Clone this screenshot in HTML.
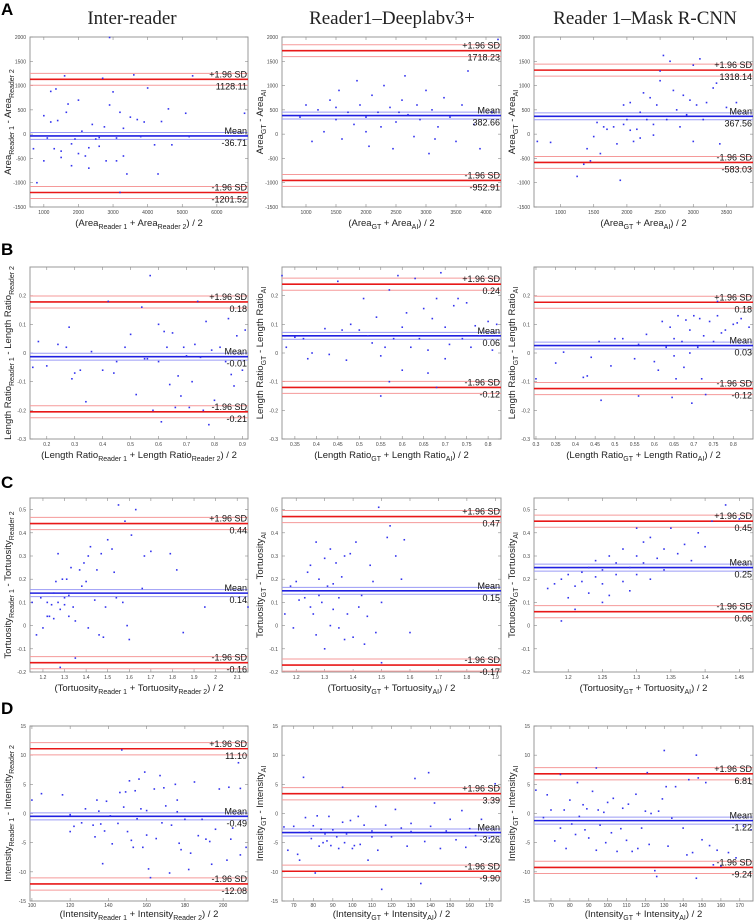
<!DOCTYPE html>
<html><head><meta charset="utf-8"><style>
html,body{margin:0;padding:0;background:#fff;}
svg{display:block;font-family:"Liberation Sans",sans-serif;}
.t{font-family:"Liberation Serif",serif;font-size:19px;fill:#222}
.L{font-family:"Liberation Sans",sans-serif;font-weight:bold;font-size:17px}
</style></head><body>
<svg id="fig" width="755" height="922" viewBox="0 0 755 922" xmlns="http://www.w3.org/2000/svg">
<text class="t" x="132" y="24" text-anchor="middle">Inter-reader</text>
<text class="t" x="392" y="24" text-anchor="middle">Reader1–Deeplabv3+</text>
<text class="t" x="645" y="24" text-anchor="middle">Reader 1–Mask R-CNN</text>
<text class="L" x="1" y="15">A</text>
<text class="L" x="1" y="255">B</text>
<text class="L" x="1" y="488">C</text>
<text class="L" x="1" y="714">D</text>
</svg>
<script>
const ptsA1=[[700,-300],[800,-1000],[1000,-550],[1000,380],[1200,880],[1200,250],[1300,-300],[1350,930],[1400,280],[1500,-480],[1600,1200],[1650,450],[1700,620],[1800,-650],[1900,-100],[2000,700],[2000,-400],[2100,60],[2200,-450],[2300,-700],[2400,200],[2500,-100],[2600,-250],[2700,1150],[2750,150],[2800,-550],[2900,600],[2900,1990],[3000,870],[3100,-550],[3200,-1200],[3200,450],[3300,-450],[3400,-820],[3500,350],[3600,1220],[3700,300],[3800,-50],[3900,250],[4000,950],[4200,-220],[4300,-820],[4400,260],[4600,520],[4700,-220],[5100,430],[5300,1200],[5200,-50],[6800,430],[1100,-80],[1500,-350],[2300,-280],[2600,-70],[3100,-80],[3300,120],[1800,-200]];
const ptsA2=[[900,350],[1000,600],[1100,-150],[1200,500],[1300,50],[1400,700],[1500,300],[1550,900],[1600,-100],[1700,450],[1800,200],[1850,1100],[1900,600],[2000,350],[2050,-250],[2100,800],[2200,450],[2250,150],[2300,1000],[2400,550],[2450,-300],[2500,250],[2600,700],[2650,1200],[2700,400],[2800,-50],[2850,600],[2900,300],[3000,900],[3050,-400],[3100,500],[3200,150],[3300,750],[3400,350],[3500,-150],[3600,600],[3700,1300],[3800,200],[3900,-300],[4100,450],[4200,1950],[1500,550],[2000,50],[2550,450],[3150,-100]];
const ptsA3=[[650,-150],[850,-170],[1250,-870],[1350,-620],[1400,-300],[1450,-550],[1500,-50],[1550,240],[1600,-400],[1650,150],[1700,100],[1800,150],[1850,-200],[1900,-950],[1950,200],[1950,600],[2000,300],[2050,650],[2100,-150],[2150,100],[2200,450],[2250,850],[2300,300],[2350,750],[2400,200],[2450,600],[2500,1100],[2500,1300],[2550,1620],[2600,300],[2650,1500],[2700,900],[2750,500],[2800,150],[2850,800],[2900,400],[2950,700],[3000,-150],[3000,1420],[3050,600],[3100,1550],[3150,300],[3200,650],[3300,950],[3350,1050],[3400,-200],[3500,550],[3650,650],[2200,-80],[2400,-20],[2050,80]];
const ptsB1=[[0.15,-0.05],[0.17,0.04],[0.2,-0.045],[0.24,0.03],[0.27,0.02],[0.28,0.09],[0.29,-0.09],[0.3,-0.07],[0.32,-0.06],[0.34,-0.17],[0.36,0.005],[0.4,-0.06],[0.42,0.18],[0.44,-0.07],[0.48,0.02],[0.5,0.065],[0.52,-0.145],[0.54,0.16],[0.56,-0.02],[0.57,0.27],[0.58,-0.2],[0.6,0.1],[0.61,-0.24],[0.62,0.075],[0.63,0.02],[0.64,-0.11],[0.65,0.07],[0.66,-0.19],[0.67,-0.08],[0.68,-0.15],[0.69,0.02],[0.71,-0.19],[0.72,-0.1],[0.73,0.03],[0.74,0.18],[0.75,-0.015],[0.76,-0.2],[0.77,0.11],[0.78,-0.25],[0.79,0.01],[0.8,-0.165],[0.82,0.02],[0.84,-0.03],[0.85,0.12],[0.86,-0.075],[0.87,-0.115],[0.88,0.06],[0.9,-0.06],[0.91,0.08],[0.6,-0.03],[0.7,-0.01],[0.55,-0.02],[0.45,-0.03]];
const ptsB2=[[0.32,0.27],[0.33,0.02],[0.35,0.055],[0.37,0.05],[0.38,-0.02],[0.39,0],[0.42,0.085],[0.43,-0.005],[0.45,0.25],[0.46,0.08],[0.47,-0.025],[0.48,0.1],[0.5,0.08],[0.51,0.19],[0.52,0.06],[0.53,0.035],[0.54,0.125],[0.55,-0.01],[0.56,0.02],[0.57,0.22],[0.57,-0.1],[0.58,0.05],[0.59,0.27],[0.6,-0.06],[0.61,0.14],[0.62,0.02],[0.63,0.26],[0.64,0.05],[0.65,0.155],[0.66,-0.07],[0.67,0.12],[0.68,-0.12],[0.69,0.28],[0.68,0.19],[0.7,0.09],[0.71,0.03],[0.72,0.165],[0.73,0.19],[0.74,0.05],[0.75,0.175],[0.76,0.02],[0.77,0.095],[0.78,0.06],[0.8,0.11],[0.81,0.01],[0.82,0.1],[0.66,0.01],[0.7,-0.02],[0.6,0.09],[0.55,-0.15]];
const ptsB3=[[0.3,-0.09],[0.35,-0.035],[0.37,0.003],[0.42,-0.085],[0.43,-0.08],[0.44,-0.015],[0.46,0.04],[0.465,-0.165],[0.49,-0.045],[0.5,0.05],[0.52,0.05],[0.55,-0.02],[0.56,0.03],[0.56,-0.15],[0.58,0.065],[0.6,-0.03],[0.61,-0.06],[0.62,0.11],[0.63,0.02],[0.64,0.09],[0.645,-0.155],[0.65,0.05],[0.655,-0.09],[0.66,0.13],[0.67,0.04],[0.675,-0.05],[0.68,0.115],[0.69,0.08],[0.695,-0.175],[0.7,0.13],[0.71,0.02],[0.715,0.12],[0.72,-0.09],[0.725,0.06],[0.73,-0.145],[0.74,0.11],[0.75,0.04],[0.76,0.13],[0.77,0.07],[0.78,0.08],[0.8,0.1],[0.81,0.105],[0.82,0.12],[0.84,0.09],[0.76,0.18],[0.69,0.0],[0.65,-0.01]];
const ptsC1=[[1.15,0.1],[1.17,-0.04],[1.19,0.12],[1.2,-0.01],[1.22,0.04],[1.23,0.04],[1.24,0.09],[1.25,0.03],[1.25,0.14],[1.26,0.19],[1.27,0.1],[1.27,0.31],[1.28,0.07],[1.28,-0.18],[1.29,0.2],[1.3,0.09],[1.31,0.2],[1.32,0.13],[1.32,0.04],[1.33,0.25],[1.34,0.08],[1.35,0.02],[1.35,-0.14],[1.37,0.24],[1.38,0.17],[1.39,0.27],[1.4,0.19],[1.41,0.3],[1.41,-0.01],[1.42,0.34],[1.44,0.11],[1.45,0.24],[1.46,-0.04],[1.47,0.31],[1.48,-0.05],[1.49,0.08],[1.5,0.37],[1.52,0.33],[1.53,0.23],[1.54,0.12],[1.55,0.52],[1.57,0.1],[1.58,0.45],[1.59,0],[1.6,-0.06],[1.61,0.39],[1.63,0.5],[1.66,0.16],[1.67,0.3],[1.7,0.32],[1.79,0.31],[1.82,0.24],[1.85,-0.03],[1.95,0.08],[2.15,0.08],[1.22,0.1],[1.3,0.12]];
const ptsC2=[[1.16,0.05],[1.18,0.17],[1.19,-0.01],[1.2,0.19],[1.21,0.11],[1.22,0.15],[1.23,0.12],[1.24,0.23],[1.25,0.08],[1.25,0.26],[1.26,0.05],[1.27,0.36],[1.27,-0.04],[1.28,0.2],[1.29,0.1],[1.3,0.29],[1.3,-0.1],[1.31,0.17],[1.32,0.33],[1.32,0.0],[1.33,0.07],[1.34,0.27],[1.35,-0.01],[1.35,0.12],[1.36,0.21],[1.37,0.3],[1.37,-0.06],[1.38,0.05],[1.39,0.31],[1.4,-0.05],[1.41,0.36],[1.42,0.08],[1.43,0.13],[1.44,-0.08],[1.45,0.04],[1.46,0.26],[1.47,0.19],[1.48,-0.03],[1.49,0.51],[1.5,0.1],[1.52,0.38],[1.53,0.43],[1.55,0.3],[1.57,0.2],[1.58,0.37],[1.6,-0.03],[1.5,-0.16],[1.28,0.13],[1.33,0.18]];
const ptsC3=[[1.17,0.16],[1.18,0.18],[1.19,0.2],[1.2,0.12],[1.2,0.22],[1.21,0.17],[1.21,0.07],[1.22,0.23],[1.22,0.19],[1.23,0.25],[1.23,0.14],[1.24,0.21],[1.24,0.28],[1.25,0.18],[1.25,0.24],[1.26,0.13],[1.26,0.3],[1.27,0.22],[1.27,0.27],[1.28,0.19],[1.28,0.33],[1.29,0.25],[1.29,0.15],[1.3,0.3],[1.3,0.22],[1.31,0.36],[1.31,0.27],[1.32,0.2],[1.32,0.38],[1.33,0.29],[1.34,0.33],[1.34,0.24],[1.35,0.42],[1.36,0.31],[1.37,0.35],[1.38,0.28],[1.39,0.4],[1.4,0.34],[1.41,0.45],[1.43,0.52],[1.45,0.46],[1.19,0.02],[1.25,0.1],[1.3,0.42]];
const ptsD1=[[100,2.3],[105,3.4],[116,3.2],[120,-0.2],[120,-3.1],[122,-2.2],[126,-1.6],[128,0.8],[132,-2],[133,-4],[134,2.3],[135,0.4],[136,-1.8],[137,-8.6],[138,-3],[139,2.1],[141,-0.4],[142,-5.2],[145,-1.7],[146,3.6],[147,10.9],[148,1.1],[149,3.7],[150,-3.1],[151,5.6],[152,-4.6],[153,-5.8],[154,3.9],[155,-0.9],[156,5.9],[157,0.8],[158,-5.8],[159,7.1],[160,-3.7],[161,-9.5],[162,-11],[164,4.2],[165,-4.3],[167,6.5],[168,-1.6],[169,4.4],[170,1.3],[172,-10.2],[173,-2],[175,5],[176,2.3],[177,-5.1],[178,-6.2],[180,-1],[182,-9.6],[183,-6.8],[185,5.4],[187,-3.8],[189,-1],[191,-4.4],[193,-4.8],[194,-8.7],[196,-2.7],[198,4.2],[202,-8],[203,4.5],[204,-4.4],[205,-2.5],[208,8.7],[209,4.3],[209,-7.1],[212,-5.8],[176,0.3],[160,0.5]];
const ptsD2=[[65,-2.3],[67,-6.3],[70,-2.2],[72,-7],[73,-8],[75,6.2],[76,-0.7],[78,-3.2],[79,-4.3],[80,-2.1],[81,-10.2],[82,-0.4],[83,-5.6],[84,-2.7],[85,-5],[86,-3.5],[87,-4.7],[88,-0.5],[89,-5.5],[90,-2.8],[92,-4],[93,-6],[95,4.5],[95,-1.5],[96,-5],[97,-3.5],[99,-1.2],[100,-6],[101,-5.5],[103,-0.5],[104,-5.3],[106,-2],[108,-8],[110,-4],[112,1.2],[113,-6.3],[115,-13],[117,-2],[120,-4],[122,0.7],[125,-2.5],[128,-5.6],[130,-1.7],[132,6],[135,-12],[137,-4.8],[139,7],[140,-2.2],[142,1.8],[145,-6],[148,-3],[150,-1],[153,-4.5],[156,0.5],[158,-5.8],[160,-2.6],[163,-3.8],[166,-1],[170,-4.2],[173,5.1],[110,-3],[130,-3.1]];
const ptsD3=[[62,4],[66,-0.7],[68,3.2],[70,0.6],[72,-4.7],[75,6.7],[75,-2.5],[77,0.6],[78,-6],[80,2.3],[81,-1.8],[83,-3.6],[84,5.3],[85,-0.5],[87,1.5],[88,-2.8],[89,0.8],[90,-4.2],[92,3.8],[94,7.8],[94,-6.3],[95,0.6],[96,-2],[98,0.2],[99,-5],[100,1.9],[102,-3.3],[103,2.6],[105,-6.5],[107,-2.6],[108,0.9],[110,-4.6],[111,1.6],[113,-6.5],[115,3.3],[116,-6],[118,-2.5],[120,0.4],[121,7],[122,-5.3],[123,0],[125,-9.8],[126,-10.8],[127,0.4],[129,2.5],[130,10.8],[131,4.6],[132,-5.6],[134,-0.8],[136,4.6],[140,-2.5],[142,-7.1],[143,5.8],[145,-6.7],[147,10],[147,-11.1],[148,6.1],[150,-4.5],[152,5.3],[154,-5.5],[156,-8.8],[158,-6.3],[160,-9],[164,-6.7],[168,-7.6],[172,-2.2],[176,-2.8]];

const meanVals=[-36.71,382.66,367.56,-0.013,0.06,0.026,0.14,0.15,0.25,-0.49,-3.26,-1.22];
const upperVals=[1128.11,1718.23,1318.14,0.178,0.24,0.177,0.44,0.47,0.45,11.10,3.39,6.81];
const lowerVals=[-1201.52,-952.91,-583.03,-0.205,-0.12,-0.124,-0.16,-0.17,0.06,-12.08,-9.90,-9.24];
const meanLabels=["-36.71","382.66","367.56","-0.01","0.06","0.03","0.14","0.15","0.25","-0.49","-3.26","-1.22"];
const upperLabels=["1128.11","1718.23","1318.14","0.18","0.24","0.18","0.44","0.47","0.45","11.10","3.39","6.81"];
const lowerLabels=["-1201.52","-952.91","-583.03","-0.21","-0.12","-0.12","-0.16","-0.17","0.06","-12.08","-9.90","-9.24"];
const xTicksA1=[1000,2000,3000,4000,5000,6000];
const xTicksA2=[1000,1500,2000,2500,3000,3500,4000];
const xTicksA3=[1000,1500,2000,2500,3000,3500];
const yTicksA=[-1500,-1000,-500,0,500,1000,1500,2000];
const xTicksB1=[0.2,0.3,0.4,0.5,0.6,0.7,0.8,0.9];
const xTicksB2=[0.35,0.4,0.45,0.5,0.55,0.6,0.65,0.7,0.75,0.8];
const xTicksB3=[0.3,0.35,0.4,0.45,0.5,0.55,0.6,0.65,0.7,0.75,0.8];
const yTicksB=[-0.3,-0.2,-0.1,0,0.1,0.2];
const xTicksC1=[1.2,1.3,1.4,1.5,1.6,1.7,1.8,1.9,2,2.1];
const xTicksC2=[1.2,1.3,1.4,1.5,1.6,1.7,1.8,1.9];
const xTicksC3=[1.2,1.25,1.3,1.35,1.4,1.45];
const yTicksC=[-0.2,-0.1,0,0.1,0.2,0.3,0.4,0.5];
const xTicksD1=[100,120,140,160,180,200];
const xTicksD2=[70,80,90,100,110,120,130,140,150,160,170];
const yTicksD=[-15,-10,-5,0,5,10,15];

const NS="http://www.w3.org/2000/svg";
const svg=document.getElementById('fig');
const cols=[[30,248],[282,501],[534,753]];
const rows=[[37,207],[267,439],[498,672],[726,901]];
const Q=["Area","Length Ratio","Tortuosity","Intensity"];
const panels=[
 {id:"a1",pts:ptsA1,xd:[600,6900],yd:[-1500,2000],xt:xTicksA1,yt:yTicksA},
 {id:"a2",pts:ptsA2,xd:[600,4250],yd:[-1500,2000],xt:xTicksA2,yt:yTicksA},
 {id:"a3",pts:ptsA3,xd:[600,3900],yd:[-1500,2000],xt:xTicksA3,yt:yTicksA},
 {id:"b1",pts:ptsB1,xd:[0.14,0.92],yd:[-0.3,0.3],xt:xTicksB1,yt:yTicksB},
 {id:"b2",pts:ptsB2,xd:[0.32,0.83],yd:[-0.3,0.3],xt:xTicksB2,yt:yTicksB},
 {id:"b3",pts:ptsB3,xd:[0.295,0.85],yd:[-0.3,0.3],xt:xTicksB3,yt:yTicksB},
 {id:"c1",pts:ptsC1,xd:[1.14,2.15],yd:[-0.2,0.55],xt:xTicksC1,yt:yTicksC},
 {id:"c2",pts:ptsC2,xd:[1.15,1.92],yd:[-0.2,0.55],xt:xTicksC2,yt:yTicksC},
 {id:"c3",pts:ptsC3,xd:[1.15,1.47],yd:[-0.2,0.55],xt:xTicksC3,yt:yTicksC},
 {id:"d1",pts:ptsD1,xd:[99,213],yd:[-15,15],xt:xTicksD1,yt:yTicksD},
 {id:"d2",pts:ptsD2,xd:[64,176],yd:[-15,15],xt:xTicksD2,yt:yTicksD},
 {id:"d3",pts:ptsD3,xd:[61,177],yd:[-15,15],xt:xTicksD2,yt:yTicksD}
];
function mk(tag,attrs,parent){const e=document.createElementNS(NS,tag);for(const k in attrs)e.setAttribute(k,attrs[k]);(parent||svg).appendChild(e);return e;}
function fmt(v){return String(+v.toFixed(3));}
function labelText(parent,parts){
  parts.forEach(p=>{const t=document.createElementNS(NS,'tspan');t.textContent=p[0];
    if(p[1]){t.setAttribute('font-size','7');t.setAttribute('dy','3');}
    else if(p[2]){t.setAttribute('dy','-3');}
    parent.appendChild(t);});
}
panels.forEach((p,i)=>{
  const r=Math.floor(i/3),c=i%3;
  const [x0,x1]=cols[c],[y0,y1]=rows[r];
  const sx=v=>x0+(v-p.xd[0])/(p.xd[1]-p.xd[0])*(x1-x0);
  const sy=v=>y1-(v-p.yd[0])/(p.yd[1]-p.yd[0])*(y1-y0);
  const g=mk('g',{});
  
  
  const fr=mk('rect',{x:x0,y:y0,width:x1-x0,height:y1-y0,fill:'#fff',stroke:'#999','stroke-width':1},g);
  
  
  const tickY=r===3?y1+6:y1+7;
  p.xt.forEach(v=>{const X=sx(v);
    mk('line',{x1:X,x2:X,y1:y1,y2:y1-3,stroke:'#888','stroke-width':0.6},g);
    mk('line',{x1:X,x2:X,y1:y0,y2:y0+3,stroke:'#888','stroke-width':0.6},g);
    const t=mk('text',{x:X,y:tickY,'font-size':5,'text-anchor':'middle',fill:'#444'},g);t.textContent=fmt(v);
    
    });
  p.yt.forEach(v=>{const Y=sy(v);
    mk('line',{x1:x0,x2:x0+3,y1:Y,y2:Y,stroke:'#888','stroke-width':0.6},g);
    mk('line',{x1:x1,x2:x1-3,y1:Y,y2:Y,stroke:'#888','stroke-width':0.6},g);
    const t=mk('text',{x:x0-4,y:Y+2,'font-size':5,'text-anchor':'end',fill:'#444'},g);t.textContent=fmt(v);
    
    });
  const yr=p.yd[1]-p.yd[0];
  function band(v,col,light,off,name){
    [v-off,v+off].forEach(w=>{const l=mk('line',{x1:x0,x2:x1,y1:sy(w),y2:sy(w),stroke:light,'stroke-width':1},g);
      
      });
    const l=mk('line',{x1:x0,x2:x1,y1:sy(v),y2:sy(v),stroke:col,'stroke-width':1.6},g);
    
    
  }
  band(upperVals[i],'#e81818','#f59a9a',yr*0.035,'upper-limit');
  band(lowerVals[i],'#e81818','#f59a9a',yr*0.035,'lower-limit');
  band(meanVals[i],'#2020e0','#9a9af5',yr*0.02,'mean');
  p.pts.forEach(d=>{const e=mk('rect',{x:sx(d[0])-0.8,y:sy(d[1])-0.8,width:1.6,height:1.6,fill:'#3333ee'},g);
    
    });
  function lab(v,top,val,name){
    const a=mk('text',{x:x1-1,y:sy(v)-2,'font-size':9,'text-anchor':'end',fill:'#111'},g);a.textContent=top;
    
    
    const b=mk('text',{x:x1-1,y:sy(v)+10,'font-size':9,'text-anchor':'end',fill:'#111'},g);b.textContent=val;
    
    
  }
  lab(upperVals[i],'+1.96 SD',upperLabels[i],'upper-limit-label');
  lab(lowerVals[i],'-1.96 SD',lowerLabels[i],'lower-limit-label');
  lab(meanVals[i],'Mean',meanLabels[i],'mean-label');
  const q=Q[r];
  const a=c===0?'Reader 1':'GT', b=c===0?'Reader 2':'AI';
  const xl=mk('text',{x:(x0+x1)/2,y:(r===3?y1+16:y1+19),'font-size':9.5,'text-anchor':'middle',fill:'#222'},g);
  labelText(xl,[['('+q],[a,1],[' + '+q,0,1],[b,1],[') / 2',0,1]]);
  
  
  const cx=x0-19,cy=(y0+y1)/2;
  const yl=mk('text',{x:cx,y:cy,'font-size':9.5,'text-anchor':'middle',fill:'#222',transform:`rotate(-90 ${cx} ${cy})`},g);
  labelText(yl,[[q],[a,1],[' - '+q,0,1],[b,1]]);
  
  
});
</script>
</body></html>
